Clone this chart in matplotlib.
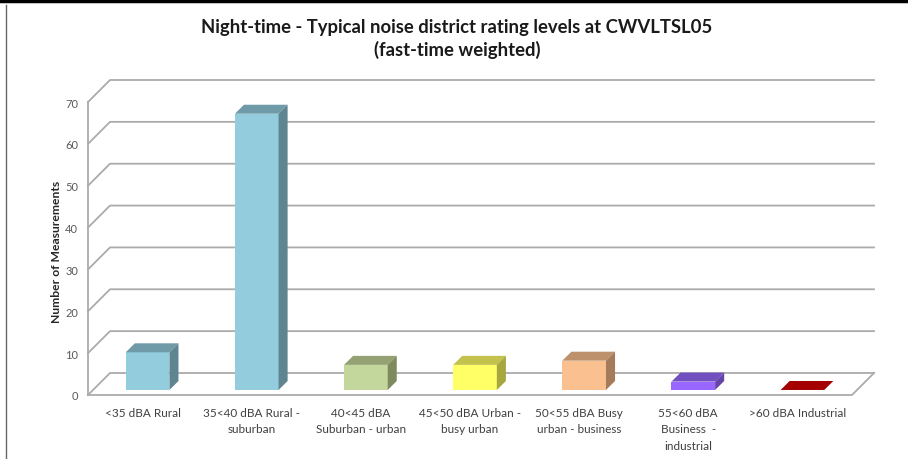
import matplotlib
matplotlib.use('Agg')
import matplotlib.pyplot as plt
from matplotlib.patches import Polygon
from matplotlib.lines import Line2D

plt.rcParams['font.family'] = ['Lato', 'DejaVu Sans']

# data
categories = ['<35 dBA Rural', '35<40 dBA Rural -\nsuburban', '40<45 dBA\nSuburban - urban',
              '45<50 dBA Urban -\nbusy urban', '50<55 dBA Busy\nurban - business',
              '55<60 dBA\nBusiness  -\nindustrial', '>60 dBA Industrial']
counts = [9, 66, 6, 6, 7, 2, 0]
front_cols = ['#93CDDD', '#93CDDD', '#C3D69B', '#FFFF66', '#FAC090', '#9966FF', '#A50000']
top_cols = ['#6F9BA8', '#6F9BA8', '#93A173', '#C2C24D', '#BD916C', '#7350BF', '#A50000']
side_cols = ['#5F8590', '#5F8590', '#7E8A5E', '#A7A740', '#A47C5C', '#6444A8', '#8A0000']
yticks = [0, 10, 20, 30, 40, 50, 60, 70]

# fake 3d geometry (data units)
n = len(categories)
DX, DY = 0.2017, 5.26     # wall depth
ox, oy = 0.046, 1.2       # bar front offset
bx, by = 0.083, 2.15      # bar depth
w = 0.4
grid_col = '#ABABAB'

fig = plt.figure(figsize=(9.08, 4.6), dpi=100)
ax = fig.add_axes([88/908, 64/460, 786/908, 315/460])
ax.set_xlim(-0.5, n - 0.5 + DX)
ax.set_ylim(0, 70 + DY)
for s in ax.spines.values():
    s.set_visible(False)

# walls / gridlines
x0, x1 = -0.5, n - 0.5
for v in yticks:
    ax.plot([x0, x0 + DX, x1 + DX], [v, v + DY, v + DY], color=grid_col, lw=1.3, zorder=1,
            clip_on=False)
ax.plot([x0, x0], [0, 70], color=grid_col, lw=1.3, zorder=1, clip_on=False)
ax.plot([x0, x1, x1 + DX], [0, 0, DY], color=grid_col, lw=1.3, zorder=1, clip_on=False)

# bars
xs = [i + ox for i in range(n)]
ax.bar(xs, counts, width=w, bottom=oy, color=front_cols, zorder=3)
for i, v in enumerate(counts):
    l, r = xs[i] - w / 2, xs[i] + w / 2
    top = v + oy
    ax.add_patch(Polygon([(l, top), (r, top), (r + bx, top + by), (l + bx, top + by)],
                         closed=True, facecolor=top_cols[i], edgecolor='none', zorder=4))
    if v > 0:
        ax.add_patch(Polygon([(r, oy), (r, top), (r + bx, top + by), (r + bx, oy + by)],
                             closed=True, facecolor=side_cols[i], edgecolor='none', zorder=4))

ax.set_yticks(yticks)
ax.set_yticklabels([str(t) for t in yticks], fontsize=8, color='#595959')
ax.set_xticks(range(n))
ax.set_xticklabels(categories, fontsize=8.5, color='#404040', linespacing=1.6, va='top')
ax.tick_params(axis='both', length=0)
ax.tick_params(axis='y', pad=7)
ax.tick_params(axis='x', pad=8.5)

fig.text(57/908, 1 - 252/460, 'Number of Measurements', rotation=90, ha='center', va='center',
         fontsize=8.7, fontweight='bold', color='#262626')

fig.text(457/908, 1 - 27/460, 'Night-time - Typical noise district rating levels at CWVLTSL05',
         ha='center', va='center', fontsize=13.3, fontweight='bold', color='#1a1a1a')
fig.text(457/908, 1 - 50/460, '(fast-time weighted)',
         ha='center', va='center', fontsize=13.3, fontweight='bold', color='#1a1a1a')

# outer frame bits
fig.add_artist(Line2D([0, 1], [1 - 1.5/460, 1 - 1.5/460], color='black', lw=2.5,
                      transform=fig.transFigure))
fig.add_artist(Line2D([6/908, 6/908], [0, 1 - 6/460], color='#666666', lw=1,
                      transform=fig.transFigure))

fig.savefig('out.png', dpi=100)
